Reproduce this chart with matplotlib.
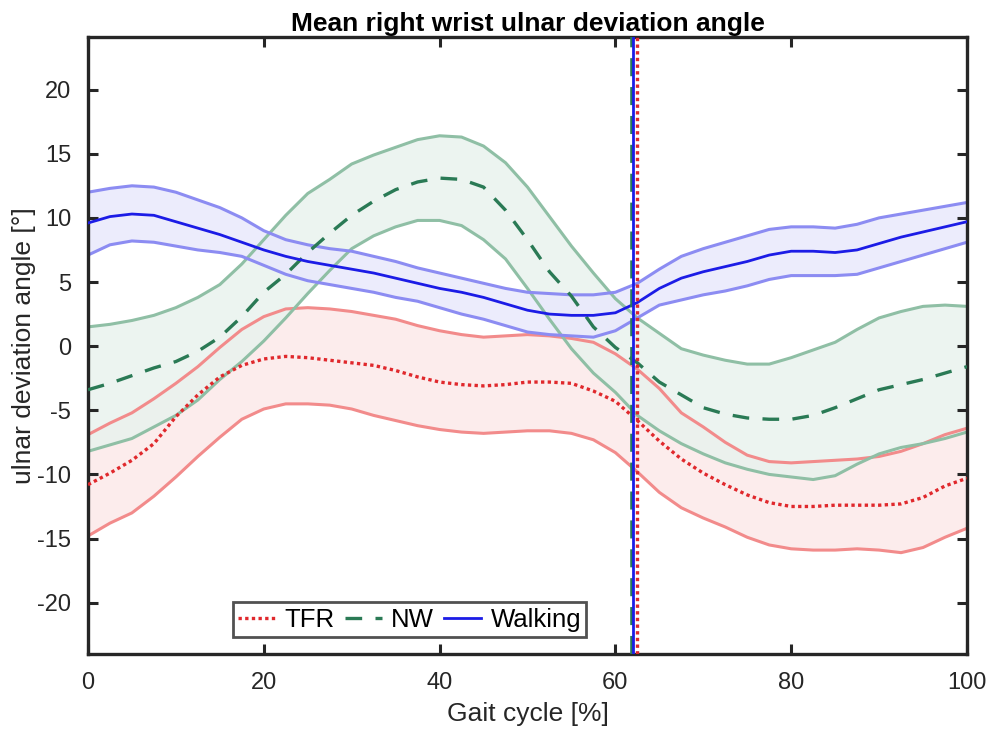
import numpy as np
import matplotlib
matplotlib.use("Agg")
import matplotlib.pyplot as plt

plt.rcParams['font.family'] = ['Liberation Sans', 'DejaVu Sans']
plt.rcParams['axes.unicode_minus'] = False
plt.rcParams['lines.solid_joinstyle'] = 'round'
plt.rcParams['lines.dash_joinstyle'] = 'round'

gait = [0, 2.5, 5, 7.5, 10, 12.5, 15, 17.5, 20, 22.5, 25, 27.5, 30, 32.5, 35, 37.5,
        40, 42.5, 45, 47.5, 50, 52.5, 55, 57.5, 60, 62.5, 65, 67.5, 70, 72.5, 75,
        77.5, 80, 82.5, 85, 87.5, 90, 92.5, 95, 97.5, 100]

walk_mean = [9.6, 10.1, 10.3, 10.2, 9.7, 9.2, 8.7, 8.1, 7.5, 7.0, 6.6, 6.3, 6.0, 5.7, 5.3, 4.9,
             4.5, 4.2, 3.8, 3.3, 2.8, 2.5, 2.4, 2.4, 2.6, 3.4, 4.5, 5.3, 5.8, 6.2, 6.6,
             7.1, 7.4, 7.4, 7.3, 7.5, 8.0, 8.5, 8.9, 9.3, 9.7]
walk_upper = [12.0, 12.3, 12.5, 12.4, 12.0, 11.4, 10.8, 10.0, 9.0, 8.3, 7.9, 7.6, 7.4, 7.0, 6.6, 6.1,
              5.7, 5.3, 4.9, 4.5, 4.2, 4.1, 4.0, 4.0, 4.2, 4.9, 6.0, 7.0, 7.6, 8.1, 8.6,
              9.1, 9.3, 9.3, 9.2, 9.5, 10.0, 10.3, 10.6, 10.9, 11.2]
walk_lower = [7.1, 7.9, 8.2, 8.1, 7.8, 7.5, 7.3, 7.0, 6.3, 5.6, 5.1, 4.8, 4.5, 4.2, 3.8, 3.5,
              3.0, 2.5, 2.1, 1.6, 1.1, 0.9, 0.8, 0.7, 1.2, 2.2, 3.2, 3.6, 4.0, 4.3, 4.7,
              5.2, 5.5, 5.5, 5.5, 5.6, 6.1, 6.6, 7.1, 7.6, 8.1]

nw_mean = [-3.4, -2.9, -2.3, -1.7, -1.2, -0.4, 0.7, 2.3, 4.2, 5.6, 7.3, 8.8, 10.2, 11.3, 12.2, 12.8,
           13.1, 13.0, 12.4, 10.6, 8.3, 5.8, 3.9, 1.5, -0.1, -1.3, -2.8, -3.8, -4.8, -5.3, -5.6,
           -5.7, -5.7, -5.4, -4.8, -4.1, -3.4, -3.0, -2.6, -2.1, -1.6]
nw_upper = [1.5, 1.7, 2.0, 2.4, 3.0, 3.8, 4.8, 6.4, 8.3, 10.2, 11.9, 13.0, 14.2, 14.9, 15.5, 16.1,
            16.4, 16.3, 15.6, 14.3, 12.4, 10.1, 7.8, 5.7, 3.7, 2.2, 1.0, -0.2, -0.7, -1.1, -1.4,
            -1.4, -0.9, -0.3, 0.3, 1.3, 2.2, 2.7, 3.1, 3.2, 3.1]
nw_lower = [-8.2, -7.7, -7.2, -6.3, -5.4, -4.2, -2.6, -1.2, 0.4, 2.2, 4.1, 5.9, 7.6, 8.6, 9.3, 9.8,
            9.8, 9.4, 8.3, 6.8, 4.5, 2.1, -0.2, -2.1, -3.6, -5.4, -6.6, -7.6, -8.4, -9.1, -9.6,
            -10.0, -10.2, -10.4, -10.1, -9.2, -8.4, -7.9, -7.6, -7.2, -6.7]

tfr_mean = [-10.8, -9.9, -8.9, -7.6, -5.5, -3.8, -2.4, -1.5, -1.0, -0.8, -0.9, -1.1, -1.3, -1.5, -1.9, -2.4,
            -2.8, -3.0, -3.1, -3.0, -2.8, -2.8, -2.9, -3.5, -4.3, -5.8, -7.4, -8.8, -9.9, -10.8, -11.6,
            -12.2, -12.5, -12.5, -12.4, -12.4, -12.4, -12.3, -11.8, -10.9, -10.3]
tfr_upper = [-6.9, -6.0, -5.2, -4.1, -2.9, -1.6, -0.1, 1.3, 2.3, 2.9, 3.0, 2.9, 2.7, 2.4, 2.1, 1.6,
             1.2, 0.9, 0.7, 0.8, 0.9, 0.8, 0.6, 0.3, -0.6, -1.8, -3.3, -5.2, -6.3, -7.5, -8.5,
             -9.0, -9.1, -9.0, -8.9, -8.8, -8.6, -8.2, -7.6, -6.9, -6.4]
tfr_lower = [-14.8, -13.8, -13.0, -11.7, -10.2, -8.6, -7.1, -5.7, -4.9, -4.5, -4.5, -4.6, -4.9, -5.4, -5.8, -6.2,
             -6.5, -6.7, -6.8, -6.7, -6.6, -6.6, -6.8, -7.3, -8.3, -9.8, -11.4, -12.6, -13.4, -14.1, -14.9,
             -15.5, -15.8, -15.9, -15.9, -15.8, -15.9, -16.1, -15.7, -14.9, -14.2]

# mean event (vertical line) positions, % gait cycle
event_nw = 61.85
event_walk = 62.05
event_tfr = 62.5

labels = ['TFR', 'NW', 'Walking']
xticks = [0, 20, 40, 60, 80, 100]
yticks = [-20, -15, -10, -5, 0, 5, 10, 15, 20]

fig = plt.figure(figsize=(9.93, 7.33), dpi=100)
ax = fig.add_axes([0.0886, 0.1078, 0.8852, 0.8417])

red, red_edge, red_fill = '#e0282c', '#f28b8b', '#fce9e9'
green, green_edge, green_fill = '#2a7a55', '#8fbfa5', '#e9f3ee'
blue, blue_edge, blue_fill = '#1c1ce6', '#8c8cf2', '#e9e9fc'

# bands
ax.fill_between(gait, tfr_lower, tfr_upper, color=red_fill, alpha=0.85, lw=0, zorder=1)
ax.fill_between(gait, nw_lower, nw_upper, color=green_fill, alpha=0.85, lw=0, zorder=1)
ax.fill_between(gait, walk_lower, walk_upper, color=blue_fill, alpha=0.85, lw=0, zorder=1)

for up, lo, c in [(tfr_upper, tfr_lower, red_edge), (nw_upper, nw_lower, green_edge),
                  (walk_upper, walk_lower, blue_edge)]:
    ax.plot(gait, up, color=c, lw=2.2, zorder=2)
    ax.plot(gait, lo, color=c, lw=2.2, zorder=2)

l1, = ax.plot(gait, tfr_mean, color=red, lw=2.4, ls=(0, (1, 1)), zorder=3)
l2, = ax.plot(gait, nw_mean, color=green, lw=2.4, ls=(0, (5, 4)), zorder=3)
l3, = ax.plot(gait, walk_mean, color=blue, lw=2.0, ls='-', zorder=3)

ax.axvline(event_nw, color=green, lw=2.6, ls=(0, (5, 3)), zorder=4)
ax.axvline(event_walk, color=blue, lw=2.0, zorder=5)
ax.axvline(event_tfr, color=red, lw=2.4, ls=(0, (1, 1)), zorder=5)

ax.set_xlim(0, 100)
ax.set_ylim(-24, 24.1)
ax.set_xticks(xticks)
ax.set_yticks(yticks)
ax.tick_params(direction='in', length=7, width=2.2, top=True, right=True,
               labelsize=17, colors='#262626')
ax.tick_params(axis='x', pad=13)
ax.tick_params(axis='y', pad=12)
for s in ax.spines.values():
    s.set_linewidth(2.4)
    s.set_color('#262626')

ax.set_title('Mean right wrist ulnar deviation angle', fontsize=19, fontweight='bold', pad=4)
ax.set_xlabel('Gait cycle [%]', fontsize=19, color='#262626', labelpad=6)
ax.set_ylabel('ulnar deviation angle [°]', fontsize=19, color='#262626', labelpad=1)

leg = ax.legend([l1, l2, l3], labels, loc='lower left', bbox_to_anchor=(0.165, 0.028),
                ncol=3, fontsize=18.5, frameon=True, fancybox=False, handlelength=1.45,
                handletextpad=0.35, columnspacing=0.4, borderpad=0.2, borderaxespad=0)
leg.get_frame().set_edgecolor('#262626')
leg.get_frame().set_linewidth(2.0)

fig.savefig('out.png', dpi=100)
